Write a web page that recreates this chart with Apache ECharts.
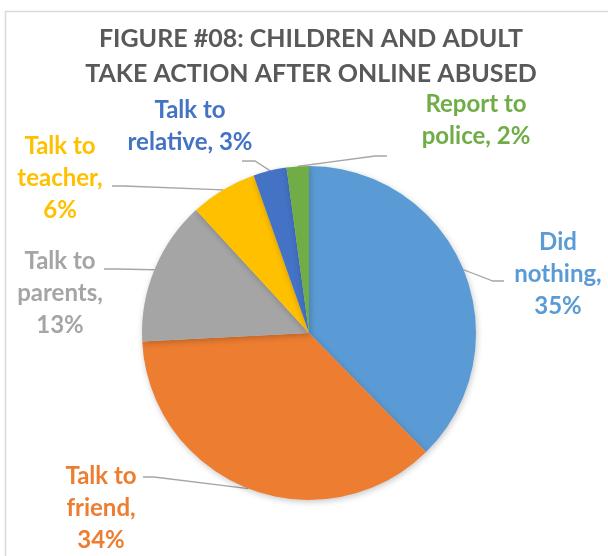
<!DOCTYPE html>
<html>
<head>
<meta charset="utf-8">
<script src="https://cdn.jsdelivr.net/npm/echarts@6/dist/echarts.min.js"></script>
<style>
  html, body { margin: 0; padding: 0; background: #ffffff; }
  #chart { width: 608px; height: 556px; }
</style>
</head>
<body>
<div id="chart"></div>
<script>
// Responses: action taken after online abuse (percent)
const categories = ['Did nothing', 'Talk to friend', 'Talk to parents', 'Talk to teacher', 'Talk to relative', 'Report to police'];
const values = [35, 34, 13, 6, 3, 2];
const colors = ['#5B9BD5', '#ED7D31', '#A5A5A5', '#FFC000', '#4472C4', '#70AD47'];
// whether the percentage goes on its own line in the label
const valueOnNewLine = [true, true, true, true, false, false];

// label block centres and leader-line elbows/ends
const labelCenter = [[558, 274], [101, 508], [60, 293], [60, 178], [190, 126], [476, 120]];
const leaderElbow = [[493, 281], [154, 477], [117, 269], [124, 186], [255, 161], [375, 156]];
const leaderEnd = [[504, 281], [143, 477], [104, 269], [112, 186], [242, 161], [387, 156]];

const FONT = 'Lato, "Open Sans", sans-serif';

const chart = echarts.init(document.getElementById('chart'), null, { renderer: 'canvas' });

const data = categories.map((name, i) => ({
  name: name,
  value: values[i],
  itemStyle: { color: colors[i] },
  label: { color: colors[i] }
}));

function labelText(p) {
  const k = p.name.lastIndexOf(' ');
  const namePart = p.name.slice(0, k) + '\n' + p.name.slice(k + 1);
  return namePart + (valueOnNewLine[p.dataIndex] ? ',\n' : ', ') + p.value + '%';
}

chart.setOption({
  animation: false,
  backgroundColor: '#ffffff',
  title: {
    text: 'FIGURE #08: CHILDREN AND ADULT\nTAKE ACTION AFTER ONLINE ABUSED',
    left: 306,
    top: 16,
    textAlign: 'center',
    textStyle: {
      fontFamily: FONT,
      fontSize: 25,
      fontWeight: 'bold',
      color: '#595959',
      lineHeight: 35
    }
  },
  graphic: [{
    type: 'rect',
    shape: { x: 5.5, y: 11.5, width: 700, height: 700 },
    style: { fill: 'none', stroke: '#d9d9d9', lineWidth: 1.5 },
    silent: true,
    z: -1
  }],
  series: [{
    type: 'pie',
    center: [309, 333],
    radius: 167,
    startAngle: 90,
    clockwise: true,
    data: data,
    itemStyle: {
      shadowBlur: 6,
      shadowColor: 'rgba(0,0,0,0.22)',
      shadowOffsetX: 1,
      shadowOffsetY: 2
    },
    label: {
      show: true,
      position: 'outside',
      formatter: labelText,
      fontFamily: FONT,
      fontSize: 24,
      fontWeight: 'bold',
      lineHeight: 32,
      align: 'center'
    },
    labelLine: {
      show: true,
      length: 20,
      length2: 10,
      lineStyle: { color: '#a6a6a6', width: 1.3 }
    },
    labelLayout: function (params) {
      const i = params.dataIndex;
      const start = params.labelLinePoints ? params.labelLinePoints[0] : null;
      const pts = start ? [start, leaderElbow[i], leaderEnd[i]] : undefined;
      return {
        x: labelCenter[i][0],
        y: labelCenter[i][1],
        align: 'center',
        verticalAlign: 'middle',
        labelLinePoints: pts
      };
    }
  }]
});
</script>
</body>
</html>
